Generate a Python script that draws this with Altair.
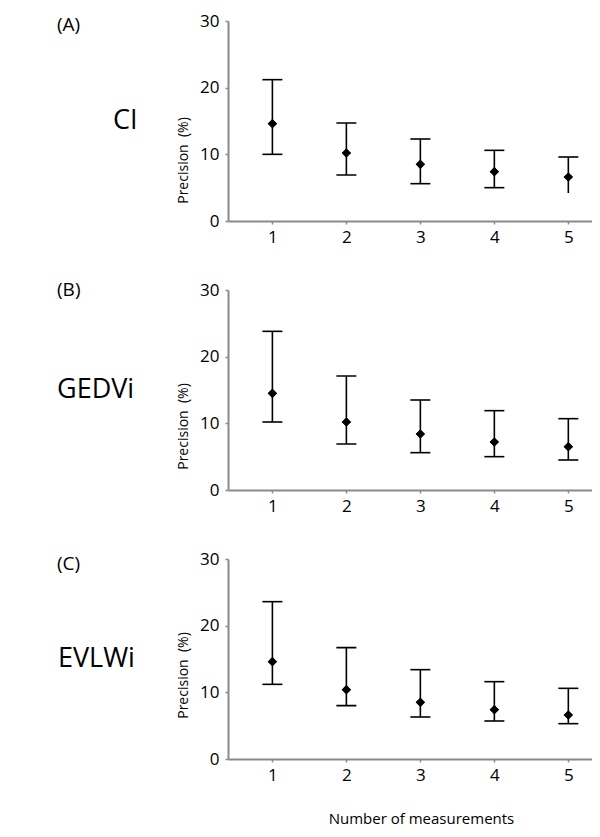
import altair as alt
import pandas as pd

FONT = "Open Sans"

measurements = [1, 2, 3, 4, 5]
panel_letters = ["(A)", "(B)", "(C)"]
panel_names = ["CI", "GEDVi", "EVLWi"]

ci_mean = [14.6, 10.2, 8.5, 7.4, 6.6]
ci_upper = [21.2, 14.7, 12.3, 10.6, 9.6]
ci_lower = [10.0, 6.9, 5.6, 5.0, 4.2]
ci_lower_cap = [True, True, True, True, False]

gedvi_mean = [14.5, 10.2, 8.4, 7.2, 6.5]
gedvi_upper = [23.8, 17.1, 13.5, 11.9, 10.7]
gedvi_lower = [10.2, 6.9, 5.6, 5.0, 4.5]
gedvi_lower_cap = [True, True, True, True, True]

evlwi_mean = [14.6, 10.4, 8.5, 7.4, 6.6]
evlwi_upper = [23.6, 16.7, 13.4, 11.6, 10.6]
evlwi_lower = [11.2, 8.0, 6.3, 5.7, 5.3]
evlwi_lower_cap = [True, True, True, True, True]

y_ticks = [0, 5, 10, 15, 20, 25, 30]

AXIS_GRAY = "#8a8a8a"


def panel(idx, mean, upper, lower, lower_cap, last, letter_y, name_x, ytitle_y):
    df = pd.DataFrame({
        "n": measurements,
        "mean": mean,
        "hi": upper,
        "lo": lower,
        "cap": lower_cap,
    })
    x_axis_kw = dict(
        values=measurements, grid=False, tickSize=3, labelPadding=5,
        labelFontSize=17, labelFont=FONT, labelColor="black",
        domainColor=AXIS_GRAY, domainWidth=2, tickColor=AXIS_GRAY, tickWidth=1.5,
    )
    if last:
        x_axis_kw.update(title="Number of measurements", titleFont=FONT, titleFontSize=15,
                         titleFontWeight="normal", titleColor="black",
                         titleX=193, titleY=59, titleBaseline="middle")
    else:
        x_axis_kw.update(title=None)
    x = alt.X("n:Q", scale=alt.Scale(domain=[0.4, 5.32], nice=False, zero=False),
              axis=alt.Axis(**x_axis_kw))
    y = alt.Y("mean:Q", scale=alt.Scale(domain=[0, 30], nice=False),
              axis=alt.Axis(values=y_ticks,
                            labelExpr="datum.value % 10 === 0 ? datum.label : ''",
                            grid=False, tickSize=3, labelPadding=6,
                            labelFontSize=17, labelFont=FONT, labelColor="black",
                            domainColor=AXIS_GRAY, domainWidth=2,
                            tickColor=AXIS_GRAY, tickWidth=1.5,
                            title="Precision\u00a0 (%)", titleFont=FONT, titleFontSize=14,
                            titleFontWeight="normal", titleColor="black",
                            titleAngle=270, titleAlign="center", titleBaseline="middle",
                            titleX=-45, titleY=ytitle_y))
    base = alt.Chart(df)
    whisk = base.mark_rule(color="black", strokeWidth=1.6).encode(
        x=x, y=alt.Y("lo:Q"), y2="hi:Q")
    cap_hi = base.mark_tick(orient="horizontal", size=20, thickness=1.6, color="black",
                            opacity=1).encode(x=x, y=alt.Y("hi:Q"))
    cap_lo = base.transform_filter("datum.cap").mark_tick(
        orient="horizontal", size=20, thickness=1.6, color="black", opacity=1
    ).encode(x=x, y=alt.Y("lo:Q"))
    pts = base.mark_point(shape="diamond", filled=True, size=85, color="black",
                          opacity=1).encode(x=x, y=y)
    lab_df = pd.DataFrame({"letter": [panel_letters[idx]], "name": [panel_names[idx]]})
    letter = alt.Chart(lab_df).mark_text(align="left", baseline="middle", font=FONT,
                                         fontSize=19, color="black").encode(
        x=alt.value(-171), y=alt.value(letter_y), text="letter:N")
    name = alt.Chart(lab_df).mark_text(align="left", baseline="middle", font=FONT,
                                       fontSize=27, color="black").encode(
        x=alt.value(name_x), y=alt.value(100), text="name:N")
    return alt.layer(pts, whisk, cap_hi, cap_lo, pts, letter, name).properties(
        width=364, height=200)


pA = panel(0, ci_mean, ci_upper, ci_lower, ci_lower_cap, False, 4, -115, 139)
pB = panel(1, gedvi_mean, gedvi_upper, gedvi_lower, gedvi_lower_cap, False, 0, -171, 136)
pC = panel(2, evlwi_mean, evlwi_upper, evlwi_lower, evlwi_lower_cap, True, 5, -170, 116)

chart = alt.vconcat(pA, pB, pC, spacing=69, bounds="flush").properties(
    padding={"left": 49, "top": 4, "right": 0, "bottom": 0}
).configure_view(stroke=None)

chart.save("out.html", embed_options={"renderer": "svg", "actions": False})
